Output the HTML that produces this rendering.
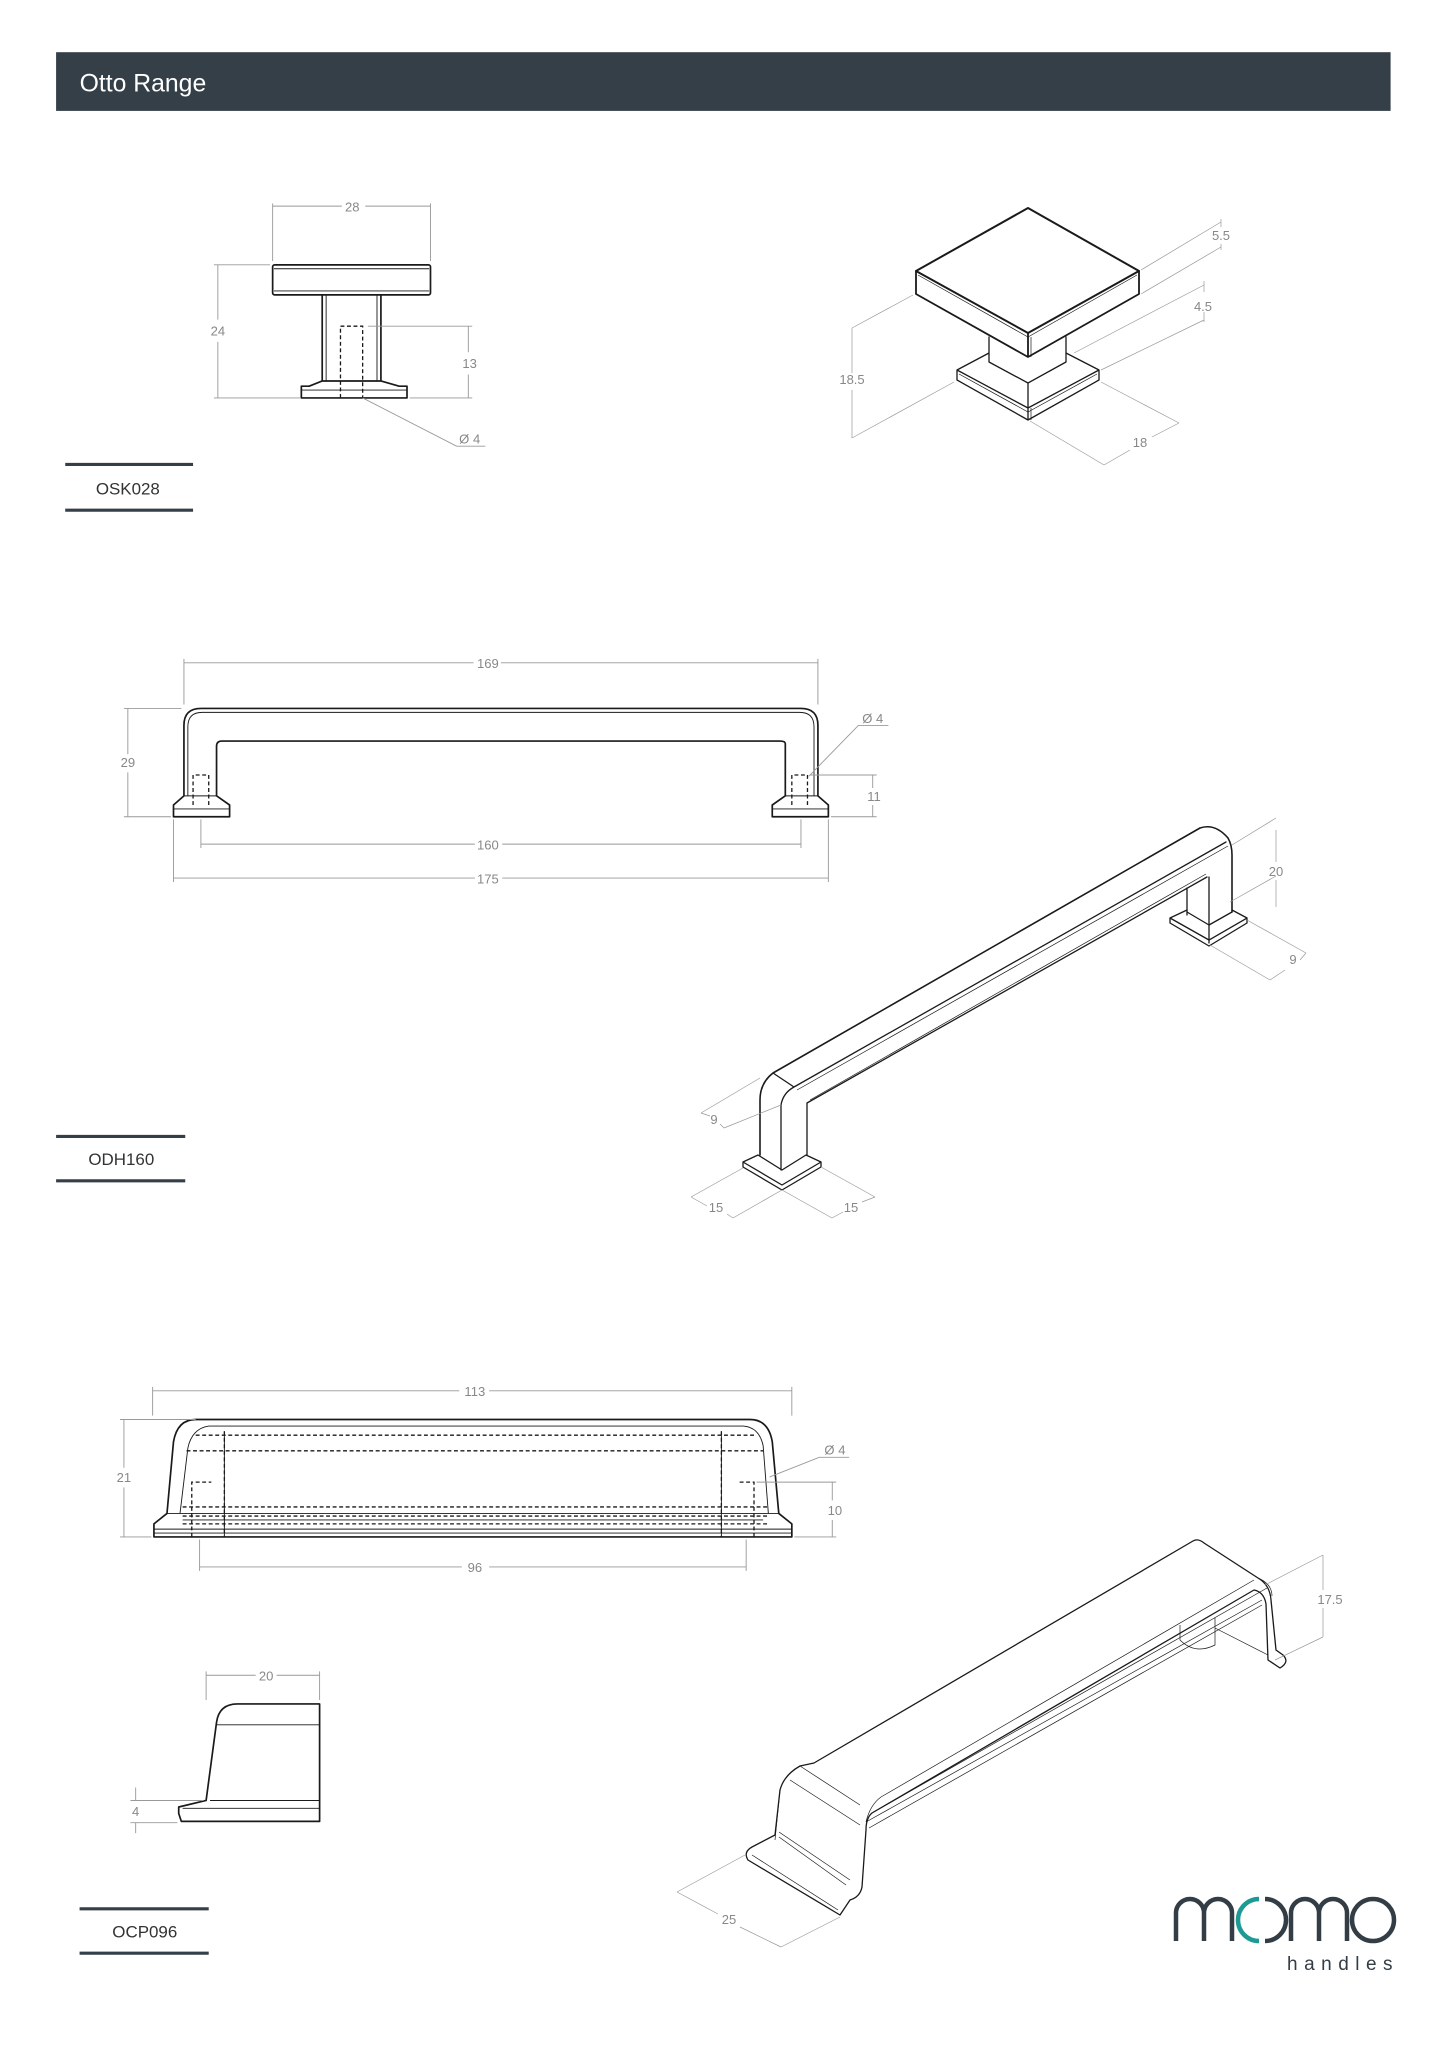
<!DOCTYPE html>
<html><head><meta charset="utf-8"><style>
html,body{margin:0;padding:0;background:#fff}
svg{display:block}
.o{fill:none;stroke:#1a1a1a;stroke-width:1.3;stroke-linejoin:round;stroke-linecap:round}
.t{fill:none;stroke:#1a1a1a;stroke-width:0.7}
.d{fill:none;stroke:#999;stroke-width:0.7}
.h{fill:none;stroke:#1a1a1a;stroke-width:1;stroke-dasharray:3 2}
text{font-family:"Liberation Sans",sans-serif}
.dt{fill:#888;font-size:10px}
.DT{fill:#888;font-size:13px}
.lb{fill:#333;font-size:13px}
</style></head><body>
<svg width="1448" height="2048" viewBox="0 0 1448 2048" xmlns="http://www.w3.org/2000/svg">
<g transform="scale(1.3045,1.3047)">
<rect x="43" y="40" width="1023" height="45" fill="#343f48"/>
<text x="61" y="70" fill="#fff" font-size="19">Otto Range</text>

<rect class="o" x="209" y="203" width="121" height="23" rx="1.5"/>
<line class="t" x1="210" y1="206" x2="329" y2="206"/>
<line class="t" x1="210" y1="223" x2="329" y2="223"/>
<path class="o" d="M247 226V292M292 226V292M247 292L237 296H231V305H312V296H306L292 292Z"/>
<line class="t" x1="250" y1="226" x2="250" y2="292"/><line class="t" x1="289" y1="226" x2="289" y2="292"/>
<line class="t" x1="231" y1="299" x2="312" y2="299"/>
<path class="h" d="M261 305V250H278V305"/>
<path class="d" d="M209 200V156M330 200V156M209 158H262M280 158H330M164 203H207M164 305H230M167 203V245M167 262V305M282 250H362M314 305H362M359 250V270M359 287V305M278 305L350 342H372"/>
<text class="dt" x="270" y="162" text-anchor="middle">28</text>
<text class="dt" x="167" y="257" text-anchor="middle">24</text>
<text class="dt" x="360" y="282" text-anchor="middle">13</text>
<text class="dt" x="352" y="340">Ø 4</text>
<path d="M50 356H148M50 391H148" stroke="#343f48" stroke-width="2.4"/>
<text class="lb" x="98" y="379" text-anchor="middle">OSK028</text>

<path class="o" d="M141 610V556Q141 543 154 543H614Q627 543 627 556V610L635 617V626H592V617L602 610V570Q602 568 598 568H170Q166 568 166 572V610L176 617V626H133V617L141 610Z"/>
<path class="t" d="M144 610V557Q144 546 155 546H613Q624 546 624 557V610M133 620H176M592 620H635M141 610H166M602 610H627"/>
<path class="h" d="M148 617V594H160V617M607 617V594H619V617"/>
<path class="d" d="M141 540V505M627 540V505M141 508H363M384 508H627M95 543H139M95 626H131M98 543V578M98 592V626M154 628V650M614 628V650M154 647H364M385 647H614M133 628V676M635 628V676M133 673H364M385 673H635M621 594H672M637 626H672M669 594V604M669 617V626M620 595L658 556H681"/>
<text class="dt" x="374" y="512" text-anchor="middle">169</text>
<text class="dt" x="98" y="588" text-anchor="middle">29</text>
<text class="dt" x="374" y="651" text-anchor="middle">160</text>
<text class="dt" x="374" y="677" text-anchor="middle">175</text>
<text class="dt" x="670" y="614" text-anchor="middle">11</text>
<text class="dt" x="661" y="554">Ø 4</text>
<path d="M43 871H142M43 905H142" stroke="#343f48" stroke-width="2.4"/>
<text class="lb" x="93" y="893" text-anchor="middle">ODH160</text>

<path class="o" d="M155 1088H575Q589 1088 592 1105L597 1160L607 1168V1178H118V1168L128 1160L133 1105Q136 1088 150 1088Z"/>
<path class="t" d="M160 1093H570Q582 1094 585 1108L589 1160M160 1093Q147 1095 144 1110L138 1160M128 1160H597M118 1172H607M118 1175H607M140 1165H585"/>
<path class="h" d="M150 1100H578M143 1112H585M140 1155H588M140 1162H588M140 1168H588M172 1097V1178M553 1097V1178M147 1178V1136H162M578 1178V1136H566"/>
<line class="t" x1="172" y1="1097" x2="172" y2="1178"/><line class="t" x1="553" y1="1097" x2="553" y2="1178"/>
<path class="d" d="M117 1085V1063M607 1085V1063M117 1066H352M375 1066H607M92 1088H150M92 1178H116M95 1088V1125M95 1140V1178M153 1180V1204M572 1180V1204M153 1201H354M375 1201H572M580 1136H641M609 1178H641M638 1136V1150M638 1165V1178M590 1132L628 1117H651"/>
<text class="dt" x="364" y="1070" text-anchor="middle">113</text>
<text class="dt" x="95" y="1136" text-anchor="middle">21</text>
<text class="dt" x="364" y="1205" text-anchor="middle">96</text>
<text class="dt" x="640" y="1161" text-anchor="middle">10</text>
<text class="dt" x="632" y="1115">Ø 4</text>

<path class="o" d="M158 1380L166 1320Q168 1306 182 1306H245V1396H139L137 1390V1385L158 1380Z"/>
<path class="t" d="M166 1322H245M161 1380H245M140 1386H245"/>
<path class="d" d="M158 1303V1281M245 1303V1281M158 1284H196M212 1284H245M100 1380H156M100 1397H136M104 1370V1380M104 1397V1405"/>
<text class="dt" x="204" y="1288" text-anchor="middle">20</text>
<text class="dt" x="104" y="1392" text-anchor="middle">4</text>
<path d="M61 1463H160M61 1497H160" stroke="#343f48" stroke-width="2.4"/>
<text class="lb" x="111" y="1485" text-anchor="middle">OCP096</text>
</g>

<g>
<path class="o" style="stroke-width:2" d="M1028 208L1139 271L1028 333L916 271Z"/>
<path class="o" style="stroke-width:1.8" d="M916 271V294L1028 357L1139 294V271M1028 333V357"/>
<path class="t" d="M918 275L1028 337L1137 275M1031 337V357"/>
<path class="o" d="M989 337V362M1066 337V362M989 353L957 370V380L1028 420L1099 380V370L1066 353M957 370L1028 408L1099 370M989 362L1028 383L1066 362M1028 383V420"/>
<path class="t" d="M959 374L1028 412L1097 374M1031 408V420"/>
<path class="d" d="M1141 270L1221 222M1141 294L1221 247M1221 219V227M1221 244V250M1074 353L1204 285M1101 370L1204 320M1204 281V292M1204 312V322M913 295L852 328M954 382L852 438M852 328V373M852 390V438M1030 421L1104 465M1101 382L1179 423M1104 465L1130 450M1152 437L1179 423"/>
<text class="DT" x="1221" y="240" text-anchor="middle">5.5</text>
<text class="DT" x="1203" y="311" text-anchor="middle">4.5</text>
<text class="DT" x="852" y="384" text-anchor="middle">18.5</text>
<text class="DT" x="1140" y="447" text-anchor="middle">18</text>
</g>

<g>
<path class="o" style="stroke-width:1.6" d="M760 1155V1100Q760 1083 773 1073L1200 828Q1215 823 1228 838Q1232 845 1232 855V912"/>
<path class="o" d="M773 1073L794 1087L1226 842M794 1087Q783 1093 781 1105V1170M807 1103V1155M807 1103L1207 877M1187 888V915M1209 877V943"/>
<path class="t" d="M797 1090L1228 846M810 1100L1206 874"/>
<path class="o" d="M743 1162V1167L782 1190L821 1167V1162L806 1155M758 1155L743 1162L782 1185L821 1162M758 1155L782 1170L806 1155"/>
<path class="o" d="M1170 918V923L1209 946L1247 923V918L1232 910M1187 910L1170 918L1209 940L1247 918M1187 912L1209 925L1232 912"/>
<path class="d" d="M1232 845L1276 818M1230 902L1276 876M1276 830V862M1276 880V907M1247 920L1306 953M1210 945L1270 980M1270 980L1285 970M1300 960L1306 953M760 1078L701 1113M781 1105L724 1128M701 1113L710 1116M720 1124L724 1128M743 1168L691 1197M782 1190L733 1218M691 1197L707 1206M727 1214L733 1218M782 1190L832 1218M821 1167L875 1197M832 1218L843 1212M862 1202L875 1197"/>
<text class="DT" x="1276" y="876" text-anchor="middle">20</text>
<text class="DT" x="1293" y="964" text-anchor="middle">9</text>
<text class="DT" x="714" y="1124" text-anchor="middle">9</text>
<text class="DT" x="716" y="1212" text-anchor="middle">15</text>
<text class="DT" x="851" y="1212" text-anchor="middle">15</text>
</g>

<g>
<path class="o" d="M814 1763L1193 1541Q1198 1538 1204 1543L1258 1578Q1270 1585 1271 1600L1276 1650L1283 1655Q1290 1662 1280 1668L1268 1660L1266 1604Q1264 1592 1254 1590L872 1813Q866 1818 866 1830L862 1887Q860 1897 850 1900L840 1915L748 1860Q743 1852 752 1847L775 1835L780 1790Q784 1775 800 1766Z"/>
<path class="t" d="M800 1766L860 1805M881 1797L1254 1580M881 1797Q870 1805 866 1822M872 1813L1267 1588M866 1822L1262 1600M869 1828L1262 1605M790 1780L860 1825M779 1832L850 1880M775 1840L780 1790M779 1837L846 1885M752 1855L838 1910M1258 1578Q1272 1584 1272 1596"/>
<path class="t" d="M1180 1625V1640Q1195 1655 1215 1645V1618M1215 1628L1268 1655"/>
<path class="d" d="M1265 1585L1323 1555M1275 1660L1323 1637M1323 1555V1590M1323 1608V1637M745 1855L677 1892M840 1917L781 1947M677 1892L718 1914M740 1927L781 1947"/>
<text class="DT" x="1330" y="1604" text-anchor="middle">17.5</text>
<text class="DT" x="729" y="1924" text-anchor="middle">25</text>
</g>

<g fill="none" stroke-width="4.5" stroke-linecap="butt">
<path stroke="#333d45" d="M1176 1941V1913A14 14 0 0 1 1204 1913V1941M1204 1913A14 14 0 0 1 1232 1913V1941"/>
<path stroke="#1e9a94" d="M1259 1899A21 21 0 0 0 1259 1941"/>
<path stroke="#333d45" d="M1265 1899A21 21 0 0 1 1265 1941"/>
<path stroke="#333d45" d="M1291 1941V1913A14 14 0 0 1 1319 1913V1941M1319 1913A14 14 0 0 1 1347 1913V1941"/>
<circle stroke="#333d45" cx="1373" cy="1920" r="21"/>
</g>
<text x="1287" y="1970" fill="#333d45" font-size="19" letter-spacing="6.5">handles</text>
</svg>
</body></html>
